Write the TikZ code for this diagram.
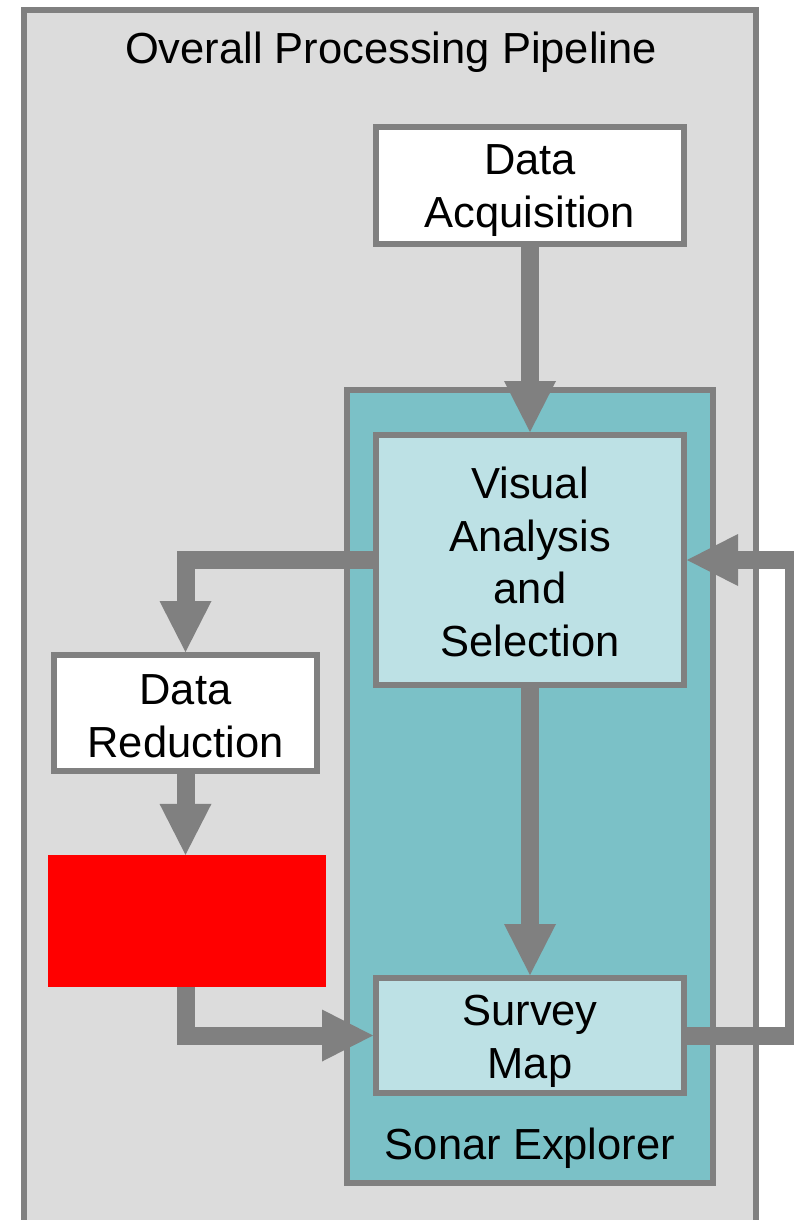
\documentclass[tikz,border=0pt]{standalone}
\usepackage{fontspec}
\setmainfont{Liberation Sans}
\usetikzlibrary{arrows.meta}
\definecolor{framegray}{HTML}{808080}
\definecolor{pagegray}{HTML}{DCDCDC}
\definecolor{sonarteal}{HTML}{7BC1C7}
\definecolor{paneteal}{HTML}{BDE1E5}
\begin{document}
\begin{tikzpicture}[x=1pt,y=-1pt,
  every node/.style={font=\fontsize{43.5pt}{52.5pt}\selectfont, align=center, inner sep=0pt},
  stage/.style={draw=framegray, line width=6pt, minimum width=308pt},
  plain/.style={stage, fill=white},
  tinted/.style={stage, fill=paneteal},
  flow/.style={draw=framegray, line width=18pt,
    -{Triangle[width=52pt,length=51pt,line width'=0pt]}}]
  \clip (0,0) rectangle (794,1220);
  \fill[white] (0,0) rectangle (794,1220);
  % outer pipeline frame
  \draw[framegray, fill=pagegray, line width=6pt] (24,10) rectangle (756,1250);
  \node (title) at (391,52) {Overall Processing Pipeline};
  % Sonar Explorer panel
  \node[draw=framegray, fill=sonarteal, line width=6pt,
        minimum width=366pt, minimum height=793pt] (sonar) at (530,786.5) {};
  \node (sonarlabel) at (530,1148) {Sonar Explorer};
  % stages (boxes first, their texts placed just below centre)
  \node[plain, minimum height=117pt] (acq) at (530,185.5) {};
  \node[tinted, minimum height=250pt] (vis) at (530,560) {};
  \node[tinted, minimum height=115pt] (map) at (530,1035.5) {};
  \node[plain, minimum width=263pt, minimum height=116pt] (reduce) at (185.5,713) {};
  \node[fill=red, minimum width=278pt, minimum height=132pt] (block) at (187,921) {};
  \node (acqtext) at ([yshift=-5pt]acq.center) {Data\\Acquisition};
  \node (vistext) at ([yshift=-2pt]vis.center) {Visual\\Analysis\\and\\Selection};
  \node (maptext) at ([yshift=-6pt]map.center) {Survey\\Map};
  \node (reducetext) at ([yshift=-3pt]reduce.center) {Data\\Reduction};
  \coordinate (loop) at (794,560);
  % connectors
  \path[flow] (acq.south) -- (vis.north);
  \path[flow] (vis.west) -| (reduce.north);
  \path[flow] (reduce.south) -- (reduce.south |- block.north);
  \path[flow] (block.south -| reduce.south) |- (map.west);
  \path[flow] (vis.south) -- (map.north);
  \path[flow] (map.east) -| (loop) -- (vis.east);
\end{tikzpicture}
\end{document}
